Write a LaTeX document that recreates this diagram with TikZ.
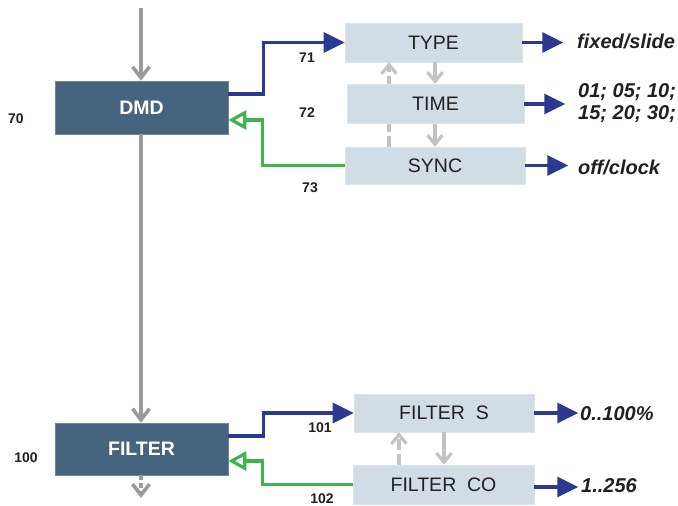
\documentclass[tikz,border=0pt]{standalone}
\usepackage{fontspec}
\setmainfont{Liberation Sans}
\usetikzlibrary{arrows.meta}
\definecolor{dmdfill}{HTML}{47647E}
\definecolor{dmddraw}{HTML}{6F879A}
\definecolor{lightfill}{HTML}{D1DCE4}
\definecolor{lightdraw}{HTML}{DCE4EA}
\definecolor{boxtext}{HTML}{231F20}
\definecolor{bluec}{HTML}{2B3990}
\definecolor{greenc}{HTML}{3DB54A}
\definecolor{grayc}{HTML}{9A9A9A}
\definecolor{lgrayc}{HTML}{C3C3C3}
\begin{document}
\begin{tikzpicture}[x=1pt,y=-1pt,
  darkbox/.style={rectangle,fill=dmdfill,draw=dmddraw,line width=0.6pt,text=white,
    font=\fontsize{19.5}{22}\selectfont\bfseries,inner sep=0pt},
  lightbox/.style={rectangle,fill=lightfill,draw=lightdraw,line width=0.6pt,text=boxtext,
    font=\fontsize{19.5}{22}\selectfont,inner sep=0pt},
  numlbl/.style={font=\fontsize{14}{16}\selectfont\bfseries,text=boxtext,inner sep=0pt},
  outlbl/.style={font=\fontsize{20}{22}\selectfont\bfseries\itshape,text=boxtext,inner sep=0pt,anchor=west,align=left},
  grayarr/.style={draw=grayc,line width=3.6pt,-{Straight Barb[length=11pt,width=17pt]}},
  lgarr/.style={draw=lgrayc,line width=3.2pt,-{Straight Barb[length=9pt,width=15pt]}},
  lgdash/.style={lgarr,dash pattern=on 11pt off 4pt},
  bluearr/.style={draw=bluec,line width=3.3pt,-{Triangle[length=21pt,width=20pt]}},
  greenarr/.style={draw=greenc,line width=3.2pt,-{Triangle[open,length=18pt,width=19pt]}}
]
\useasboundingbox (0,0) rectangle (678,506);
\fill[white] (0,0) rectangle (678,506);

\path
  (141.5,107.5) coordinate (cdmd)
  (141.5,449) coordinate (cfilter)
  (433.5,42.5) coordinate (ctype)
  (435.5,103.5) coordinate (ctime)
  (435,165.5) coordinate (csync)
  (444,413) coordinate (cfs)
  (443.5,484.5) coordinate (cfco);

\node[darkbox,minimum width=173pt,minimum height=53pt] (dmd) at (cdmd) {DMD};
\node[darkbox,minimum width=173pt,minimum height=52pt] (filter) at (cfilter) {FILTER};
\node[lightbox,minimum width=177pt,minimum height=39pt] (type) at (ctype) {TYPE};
\node[lightbox,minimum width=177pt,minimum height=39pt] (time) at (ctime) {TIME};
\node[lightbox,minimum width=180pt,minimum height=37pt] (sync) at (csync) {SYNC};
\node[lightbox,minimum width=180pt,minimum height=38pt] (fs) at (cfs) {FILTER~~S};
\node[lightbox,minimum width=181pt,minimum height=39pt] (fco) at (cfco) {FILTER~~CO};

\coordinate (top) at (141,8);
\coordinate (bot) at (141,498);
\draw[grayarr] (top) -- ([xshift=-0.5pt]dmd.north);
\draw[grayarr] ([xshift=-0.5pt]dmd.south) -- ([xshift=-0.5pt]filter.north);
\draw[grayarr,dash pattern=on 5pt off 3pt] ([xshift=-0.5pt]filter.south) -- (bot);

\draw[lgarr] ([xshift=1.5pt]type.south) -- ([xshift=-0.5pt]time.north);
\draw[lgarr] ([xshift=-0.5pt]time.south) -- (sync.north);
\draw[lgdash] ([xshift=-46pt]sync.north) -- ([xshift=-44.5pt]type.south);
\node[lightbox,minimum width=177pt,minimum height=39pt] (time2) at (ctime) {TIME};

\draw[lgarr] (fs.south) -- ([xshift=0.5pt]fco.north);
\draw[lgdash] ([xshift=-44.5pt]fco.north) -- ([xshift=-45pt]fs.south);

\draw[bluearr] ([yshift=13.5pt]dmd.east) -- ++(35,0) |- (type.west);
\draw[greenarr] (sync.west) -- ++(-82,0) |- ([yshift=-12.5pt]dmd.east);
\draw[bluearr] ([yshift=13pt]filter.east) -- ++(35,0) |- (fs.west);
\draw[greenarr] (fco.west) -- ++(-90,0) |- ([yshift=-12pt]filter.east);

\node[outlbl] (otype) at (577,41) {fixed/slide};
\node[outlbl] (otime) at (578,103.5) {01; 05; 10;\\15; 20; 30;};
\node[outlbl] (osync) at (578,167) {off/clock};
\node[outlbl] (ofs) at (580,414) {0..100\%};
\node[outlbl] (ofco) at (581,486) {1..256};
\draw[bluearr] (type.east) -- ++(41,0);
\draw[bluearr] ([yshift=-0.5pt]time.east) -- ++(41,0);
\draw[bluearr] (sync.east) -- ++(43,0);
\draw[bluearr] (fs.east) -- ++(44,0);
\draw[bluearr] ([yshift=-2.5pt]fco.east) -- ++(44,0);

\node[numlbl] (n70) at (16,119) {70};
\node[numlbl] (n100) at (26,458) {100};
\node[numlbl] (n71) at (307,58) {71};
\node[numlbl] (n72) at (307,113) {72};
\node[numlbl] (n73) at (310,188) {73};
\node[numlbl] (n101) at (320,428) {101};
\node[numlbl] (n102) at (322,499) {102};
\end{tikzpicture}
\end{document}
